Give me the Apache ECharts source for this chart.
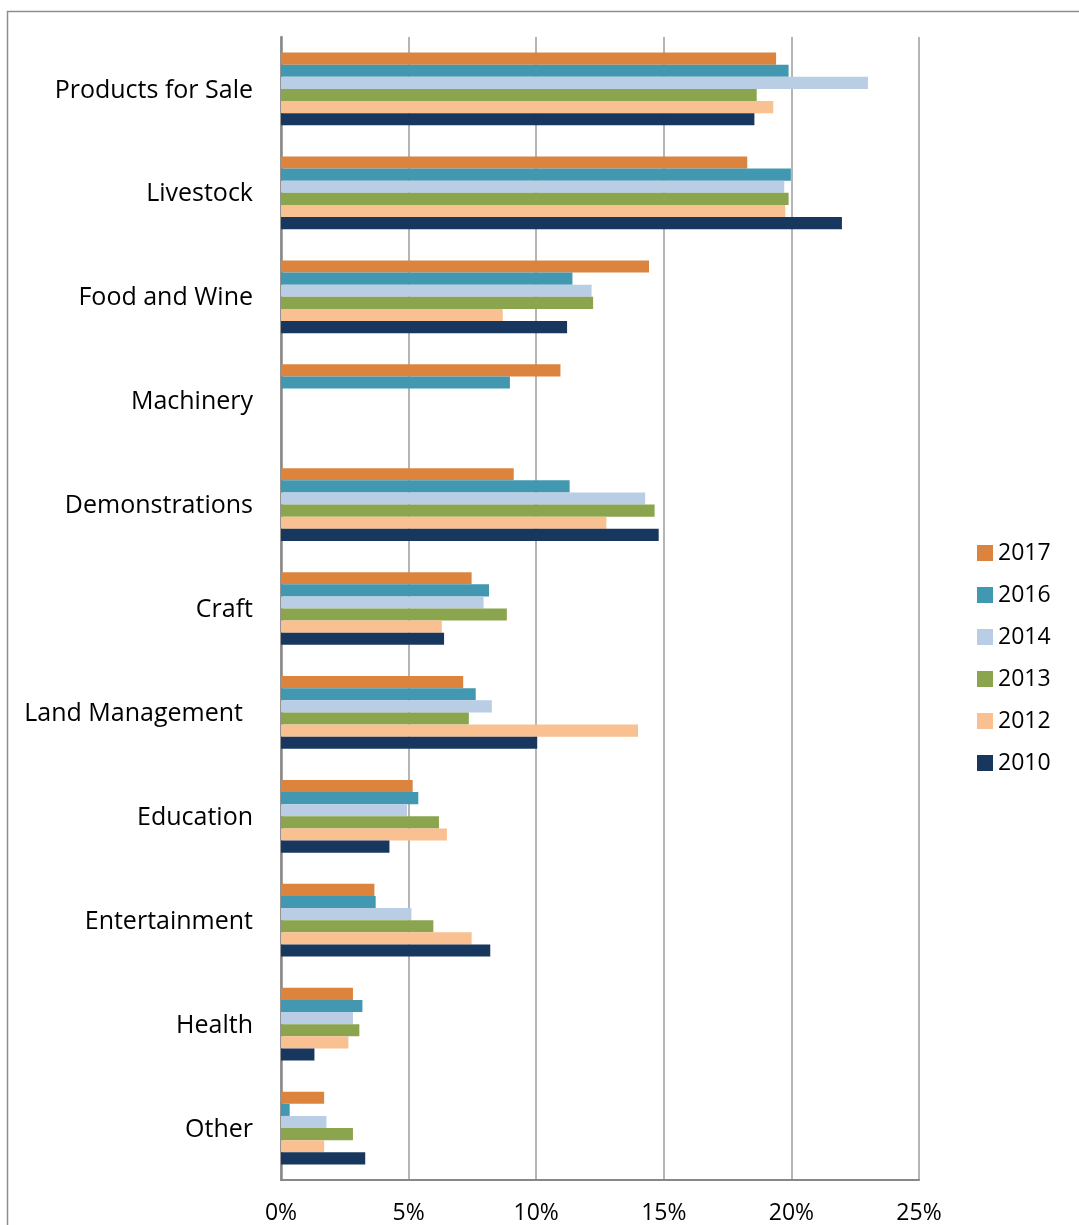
<!DOCTYPE html>
<html>
<head>
<meta charset="utf-8">
<style>
  html, body { margin: 0; padding: 0; background: #ffffff; }
  #chart { width: 1079px; height: 1225px; }
</style>
<script src="https://cdn.jsdelivr.net/npm/echarts@6/dist/echarts.min.js"></script>
</head>
<body>
<div id="chart"></div>
<script>
// Share of exhibits by category, per show year (percent)
const categories = [
  'Products for Sale', 'Livestock', 'Food and Wine', 'Machinery', 'Demonstrations',
  'Craft', 'Land Management', 'Education', 'Entertainment', 'Health', 'Other'
];
const years = ['2017', '2016', '2014', '2013', '2012', '2010'];

const v2017 = [19.40, 18.27, 14.42, 10.95, 9.12, 7.47, 7.14, 5.16, 3.66, 2.82, 1.69];
const v2016 = [19.89, 19.98, 11.42, 8.97, 11.31, 8.15, 7.63, 5.38, 3.71, 3.19, 0.34];
const v2014 = [23.00, 19.72, 12.17, null, 14.27, 7.94, 8.26, 4.94, 5.11, 2.82, 1.78];
const v2013 = [18.64, 19.89, 12.23, null, 14.64, 8.85, 7.36, 6.19, 5.97, 3.07, 2.82];
const v2012 = [19.29, 19.76, 8.69, null, 12.75, 6.30, 13.99, 6.50, 7.47, 2.64, 1.69];
const v2010 = [18.55, 21.98, 11.21, null, 14.80, 6.39, 10.04, 4.25, 8.20, 1.31, 3.30];

const xTicks = { min: 0, max: 25, interval: 5 };

const colors = ['#DC843E', '#4298B0', '#B9CDE4', '#8AA54E', '#F9C091', '#18375F'];
const seriesValues = [v2017, v2016, v2014, v2013, v2012, v2010];

const FONT = '"Open Sans", Lato, sans-serif';

const chart = echarts.init(document.getElementById('chart'), null, { renderer: 'canvas' });

chart.setOption({
  animation: false,
  backgroundColor: '#ffffff',
  color: colors,
  textStyle: { fontFamily: FONT, color: '#000000' },
  graphic: [{
    type: 'rect',
    shape: { x: 7.5, y: 11.5, width: 1200, height: 1400 },
    style: { fill: 'none', stroke: '#8E8E8E', lineWidth: 1.5 },
    silent: true,
    z: -1
  }],
  grid: { left: 281, top: 37, width: 638, height: 1145 },
  legend: {
    orient: 'vertical',
    left: 977,
    top: 541,
    padding: 0,
    itemWidth: 16,
    itemHeight: 16,
    itemGap: 18,
    icon: 'rect',
    data: years,
    textStyle: { fontFamily: FONT, fontSize: 23, color: '#000000', lineHeight: 24 }
  },
  xAxis: {
    type: 'value',
    min: xTicks.min,
    max: xTicks.max,
    interval: xTicks.interval,
    axisLine: { show: true, lineStyle: { color: '#888888', width: 2 } },
    axisTick: { show: false },
    axisLabel: {
      formatter: '{value}%',
      margin: 22,
      fontFamily: FONT,
      fontSize: 23,
      color: '#000000'
    },
    splitLine: { show: true, lineStyle: { color: '#9C9C9C', width: 1.5 } }
  },
  yAxis: {
    type: 'category',
    data: categories,
    inverse: true,
    axisLine: { show: true, lineStyle: { color: '#888888', width: 2.5 } },
    axisTick: { show: false },
    axisLabel: {
      margin: 28,
      fontFamily: FONT,
      fontSize: 25,
      color: '#000000',
      padding: [3, 0, 0, 0],
      formatter: function (name) {
        return name === 'Land Management' ? '{pad|' + name + '}' : name;
      },
      rich: {
        pad: { fontFamily: FONT, fontSize: 25, color: '#000000', padding: [0, 10, 0, 0] }
      }
    },
    splitLine: { show: false }
  },
  series: years.map(function (y, i) {
    return {
      name: y,
      type: 'bar',
      data: seriesValues[i],
      barGap: '0%',
      barCategoryGap: '30%',
      itemStyle: { color: colors[i] }
    };
  })
});
</script>
</body>
</html>
